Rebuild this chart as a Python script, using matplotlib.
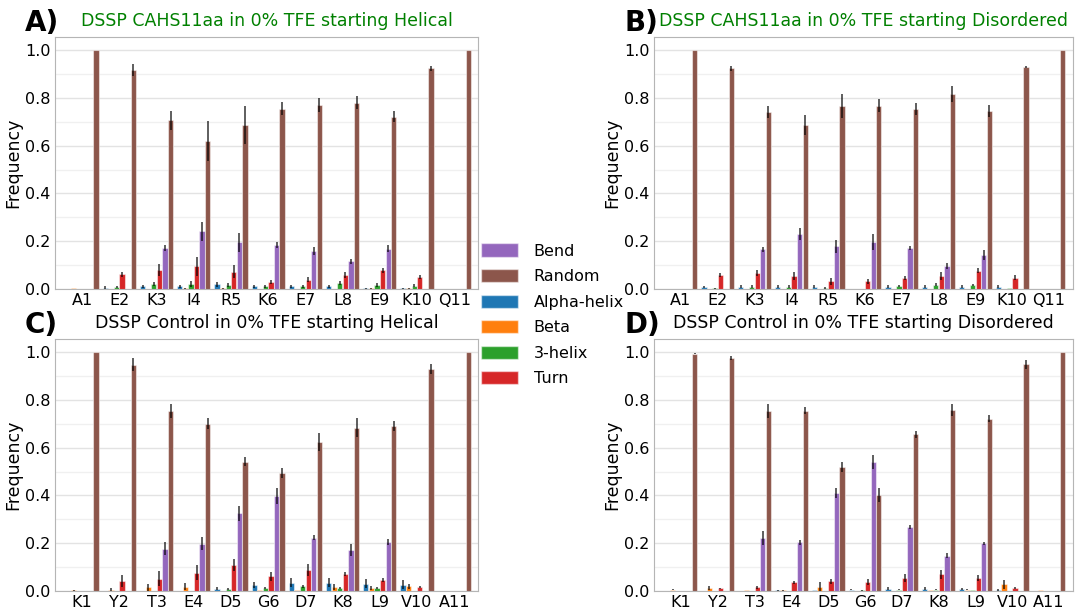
import matplotlib
matplotlib.use("Agg")
import matplotlib.pyplot as plt
from matplotlib.patches import Patch
from matplotlib.ticker import MultipleLocator
import numpy as np

# residue labels
cahs_res = ["A1", "E2", "K3", "I4", "R5", "K6", "E7", "L8", "E9", "K10", "Q11"]
ctrl_res = ["K1", "Y2", "T3", "E4", "D5", "G6", "D7", "K8", "L9", "V10", "A11"]

# bar order inside a group, and legend order
structures = ["Alpha-helix", "Beta", "3-helix", "Turn", "Bend", "Random"]
colors = ["#1f77b4", "#ff7f0e", "#2ca02c", "#d62728", "#9467bd", "#8c564b"]
legend_order = ["Bend", "Random", "Alpha-helix", "Beta", "3-helix", "Turn"]

# rows: alpha, beta, 3-helix, turn, bend, random (one value per residue)
freq_a = [
    [0.0, 0.006, 0.011, 0.011, 0.020, 0.011, 0.011, 0.011, 0.003, 0.002, 0.0],
    [0.002, 0.0, 0.0, 0.003, 0.002, 0.0, 0.0, 0.0, 0.003, 0.002, 0.0],
    [0.0, 0.008, 0.021, 0.021, 0.015, 0.011, 0.011, 0.025, 0.015, 0.014, 0.0],
    [0.0, 0.061, 0.081, 0.095, 0.073, 0.029, 0.039, 0.060, 0.078, 0.050, 0.0],
    [0.0, 0.0, 0.173, 0.242, 0.196, 0.183, 0.158, 0.116, 0.169, 0.0, 0.0],
    [1.0, 0.915, 0.707, 0.620, 0.686, 0.754, 0.771, 0.779, 0.722, 0.923, 1.0],
]
err_a = [
    [0, 0.005, 0.006, 0.006, 0.010, 0.006, 0.006, 0.006, 0.002, 0.002, 0],
    [0, 0, 0, 0.002, 0.002, 0, 0, 0, 0.002, 0.002, 0],
    [0, 0.006, 0.010, 0.012, 0.008, 0.005, 0.007, 0.009, 0.008, 0.007, 0],
    [0, 0.012, 0.025, 0.040, 0.027, 0.010, 0.010, 0.012, 0.010, 0.010, 0],
    [0, 0, 0.012, 0.040, 0.040, 0.012, 0.017, 0.010, 0.013, 0, 0],
    [0, 0.025, 0.040, 0.085, 0.080, 0.027, 0.030, 0.027, 0.024, 0.010, 0],
]

freq_b = [
    [0.0, 0.008, 0.010, 0.010, 0.010, 0.0, 0.010, 0.010, 0.010, 0.010, 0.0],
    [0.0, 0.0, 0.0, 0.0, 0.0, 0.0, 0.0, 0.0, 0.0, 0.0, 0.0],
    [0.0, 0.003, 0.010, 0.010, 0.005, 0.0, 0.011, 0.018, 0.018, 0.004, 0.0],
    [0.0, 0.057, 0.068, 0.054, 0.032, 0.032, 0.046, 0.054, 0.076, 0.047, 0.0],
    [0.0, 0.0, 0.166, 0.229, 0.178, 0.196, 0.172, 0.096, 0.143, 0.0, 0.0],
    [1.0, 0.923, 0.740, 0.687, 0.766, 0.768, 0.752, 0.815, 0.744, 0.928, 1.0],
]
err_b = [
    [0, 0.005, 0.006, 0.006, 0.006, 0, 0.005, 0.005, 0.005, 0.005, 0],
    [0, 0, 0, 0, 0, 0, 0, 0, 0, 0, 0],
    [0, 0.003, 0.005, 0.005, 0.004, 0, 0.004, 0.005, 0.004, 0.002, 0],
    [0, 0.008, 0.012, 0.015, 0.015, 0.010, 0.010, 0.018, 0.010, 0.010, 0],
    [0, 0, 0.010, 0.026, 0.028, 0.033, 0.008, 0.012, 0.020, 0, 0],
    [0, 0.012, 0.025, 0.043, 0.052, 0.026, 0.025, 0.033, 0.026, 0.005, 0],
]

freq_c = [
    [0.0, 0.0, 0.0, 0.0, 0.010, 0.024, 0.035, 0.035, 0.031, 0.027, 0.0],
    [0.002, 0.006, 0.015, 0.017, 0.0, 0.005, 0.003, 0.017, 0.013, 0.020, 0.0],
    [0.0, 0.0, 0.0, 0.0, 0.007, 0.013, 0.020, 0.014, 0.011, 0.0, 0.0],
    [0.0, 0.042, 0.052, 0.077, 0.109, 0.061, 0.088, 0.070, 0.045, 0.018, 0.0],
    [0.0, 0.0, 0.176, 0.198, 0.325, 0.398, 0.223, 0.170, 0.204, 0.0, 0.0],
    [1.0, 0.948, 0.753, 0.701, 0.542, 0.494, 0.623, 0.684, 0.690, 0.929, 1.0],
]
err_c = [
    [0, 0, 0, 0, 0.005, 0.012, 0.020, 0.020, 0.020, 0.020, 0],
    [0.002, 0.005, 0.015, 0.015, 0, 0, 0, 0.012, 0.008, 0.010, 0],
    [0, 0, 0, 0, 0.004, 0.004, 0.006, 0.004, 0.004, 0, 0],
    [0, 0.026, 0.030, 0.030, 0.025, 0.020, 0.025, 0.008, 0.008, 0.004, 0],
    [0, 0, 0.027, 0.027, 0.030, 0.035, 0.010, 0.025, 0.012, 0, 0],
    [0, 0.026, 0.028, 0.025, 0.020, 0.020, 0.037, 0.040, 0.020, 0.020, 0],
]

freq_d = [
    [0.0, 0.0, 0.0, 0.002, 0.004, 0.006, 0.010, 0.010, 0.008, 0.004, 0.0],
    [0.006, 0.013, 0.002, 0.002, 0.018, 0.0, 0.0, 0.002, 0.006, 0.028, 0.002],
    [0.0, 0.0, 0.0, 0.0, 0.0, 0.003, 0.006, 0.006, 0.002, 0.0, 0.0],
    [0.0, 0.011, 0.015, 0.036, 0.040, 0.039, 0.054, 0.070, 0.054, 0.011, 0.0],
    [0.0, 0.0, 0.223, 0.203, 0.410, 0.541, 0.268, 0.147, 0.200, 0.0, 0.0],
    [0.994, 0.976, 0.754, 0.754, 0.520, 0.403, 0.656, 0.757, 0.722, 0.949, 1.0],
]
err_d = [
    [0, 0, 0, 0.002, 0.002, 0.004, 0.005, 0.005, 0.005, 0.003, 0],
    [0.002, 0.008, 0, 0.002, 0.018, 0, 0, 0, 0.003, 0.020, 0],
    [0, 0, 0, 0, 0, 0.002, 0.003, 0.003, 0, 0, 0],
    [0, 0.003, 0.005, 0.007, 0.010, 0.012, 0.015, 0.018, 0.012, 0.004, 0],
    [0, 0, 0.030, 0.012, 0.020, 0.030, 0.007, 0.010, 0.007, 0, 0],
    [0.002, 0.008, 0.030, 0.015, 0.020, 0.030, 0.015, 0.024, 0.015, 0.020, 0],
]

titles = [
    "DSSP CAHS11aa in 0% TFE starting Helical",
    "DSSP CAHS11aa in 0% TFE starting Disordered",
    "DSSP Control in 0% TFE starting Helical",
    "DSSP Control in 0% TFE starting Disordered",
]
title_colors = ["green", "green", "black", "black"]
letters = ["A)", "B)", "C)", "D)"]


def draw_panel(ax, res, freq, err):
    x = np.arange(len(res))
    width = 0.15
    for i, (name, col) in enumerate(zip(structures, colors)):
        ax.bar(x + (i - 2.5) * width, freq[i], width=width * 0.95,
               color=col, edgecolor=(1, 1, 1, 0.5), linewidth=0.8,
               yerr=err[i], error_kw=dict(ecolor="black", elinewidth=1.1, alpha=0.8),
               zorder=3)
    ax.set_xticks(x)
    ax.set_xticklabels(res)
    ax.set_xlim(-0.73, 10.65)
    ax.set_ylim(0, 1.055)
    ax.yaxis.set_major_locator(MultipleLocator(0.2))
    ax.yaxis.set_minor_locator(MultipleLocator(0.1))
    ax.grid(axis="y", which="major", color="#e3e3e3", linewidth=1.0, zorder=0)
    ax.grid(axis="y", which="minor", color="#f0f0f0", linewidth=1.0, zorder=0)
    ax.set_axisbelow(True)
    for s in ax.spines.values():
        s.set_color("#b5b5b5")
    ax.tick_params(axis="both", which="major", labelsize=11.5, length=0, pad=3)
    ax.tick_params(axis="y", which="minor", length=0)
    ax.set_ylabel("Frequency", fontsize=12.5, labelpad=2)


fig = plt.figure(figsize=(10.76, 6.09), dpi=100)
positions = [
    [0.0511, 0.5255, 0.3935, 0.4138],
    [0.6078, 0.5255, 0.3894, 0.4138],
    [0.0511, 0.0296, 0.3935, 0.4138],
    [0.6078, 0.0296, 0.3894, 0.4138],
]
panel_data = [
    (cahs_res, freq_a, err_a),
    (cahs_res, freq_b, err_b),
    (ctrl_res, freq_c, err_c),
    (ctrl_res, freq_d, err_d),
]

for k, pos in enumerate(positions):
    ax = fig.add_axes(pos)
    res, freq, err = panel_data[k]
    draw_panel(ax, res, freq, err)
    ax.set_title(titles[k], color=title_colors[k], fontsize=12.5, pad=8)
    ax.text(-0.071, 1.022, letters[k], transform=ax.transAxes, fontsize=20,
            fontweight="bold", ha="left", va="baseline")

handles = [Patch(facecolor=colors[structures.index(n)], edgecolor=(1, 1, 1, 0.5))
           for n in legend_order]
fig.legend(handles, legend_order, loc="center left", bbox_to_anchor=(0.447, 0.483),
           frameon=False, fontsize=11.5, handlelength=2.3, handleheight=0.9,
           labelspacing=0.65, borderpad=0, borderaxespad=0, handletextpad=1.0)

fig.savefig("out.png", dpi=100)
